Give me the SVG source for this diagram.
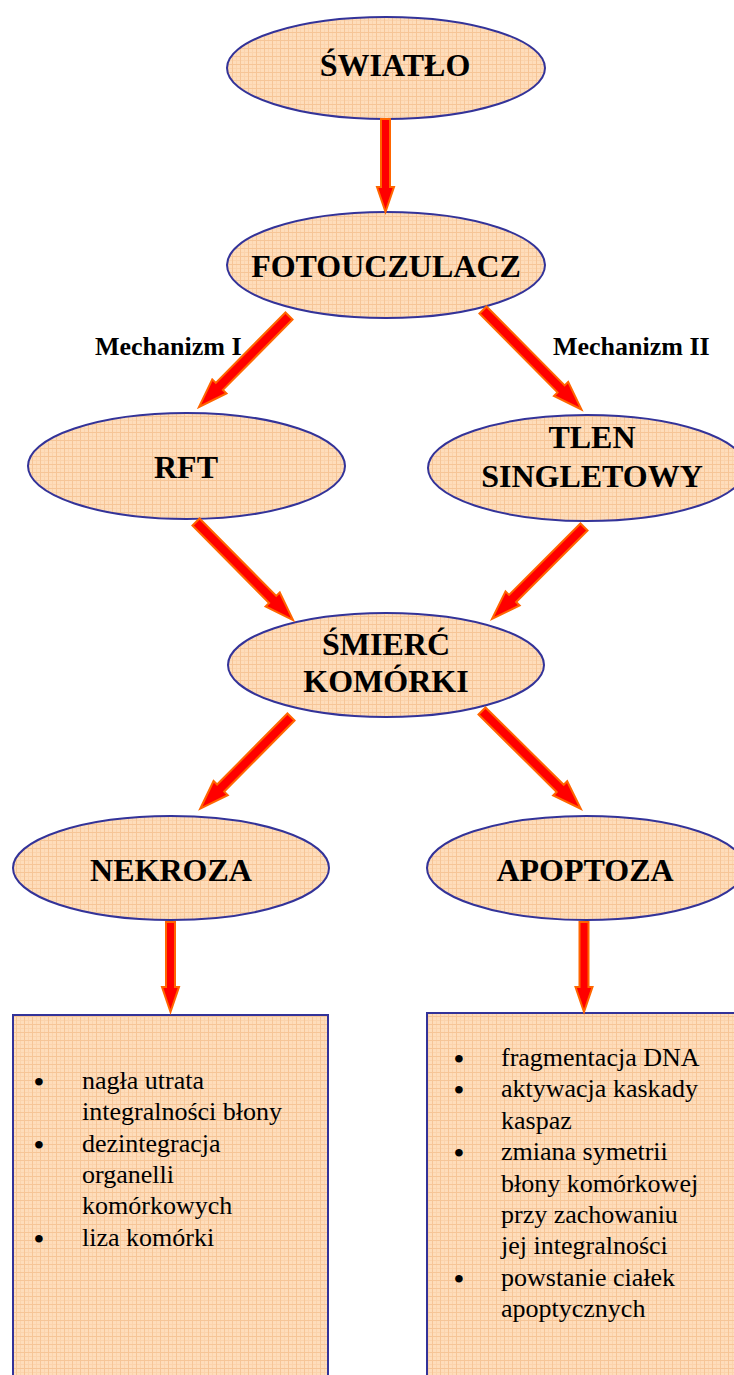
<svg xmlns="http://www.w3.org/2000/svg" width="734" height="1375" viewBox="0 0 734 1375">
<style>
.node{fill:url(#grid);stroke:#333399;stroke-width:2}
.t{font-family:"Liberation Serif","Times New Roman",serif;font-weight:bold;font-size:32px;fill:#000;text-anchor:middle}
.lab{font-family:"Liberation Serif","Times New Roman",serif;font-weight:bold;font-size:26px;fill:#000}
.b{font-family:"Liberation Serif","Times New Roman",serif;font-size:26px;fill:#000}
.bul{font-family:"Liberation Serif","Times New Roman",serif;font-size:28px;font-weight:bold;fill:#000;text-anchor:middle}
.arr{fill:#FF0000;stroke:#FF6600;stroke-width:2;stroke-linejoin:miter}
</style>
<defs>
<pattern id="grid" width="8" height="8" patternUnits="userSpaceOnUse">
<rect width="8" height="8" fill="#FEDDBB"/>
<path d="M0,4.5H8M4.5,0V8" stroke="#FBD3AC" stroke-width="1"/>
<path d="M0,0.5H8M0.5,0V8" stroke="#F6C597" stroke-width="1"/>
</pattern>
</defs>
<rect width="734" height="1375" fill="#FFFFFF"/>

<g id="swiatlo">
<ellipse class="node" cx="386" cy="68" rx="159" ry="51"/>
<text class="t" x="395" y="76">ŚWIATŁO</text>
</g>
<g id="fotouczulacz">
<ellipse class="node" cx="386" cy="265" rx="159" ry="53"/>
<text class="t" x="386" y="277">FOTOUCZULACZ</text>
</g>
<g id="rft">
<ellipse class="node" cx="186.5" cy="466" rx="158.5" ry="53"/>
<text class="t" x="186" y="478">RFT</text>
</g>
<g id="tlen">
<ellipse class="node" cx="587" cy="468" rx="159" ry="53"/>
<text class="t" x="592" y="448">TLEN</text>
<text class="t" x="592" y="487">SINGLETOWY</text>
</g>
<g id="smierc">
<ellipse class="node" cx="386" cy="665" rx="158" ry="52"/>
<text class="t" x="386" y="655">ŚMIERĆ</text>
<text class="t" x="386" y="692">KOMÓRKI</text>
</g>
<g id="nekroza">
<ellipse class="node" cx="171" cy="868" rx="158" ry="52"/>
<text class="t" x="171" y="881">NEKROZA</text>
</g>
<g id="apoptoza">
<ellipse class="node" cx="586" cy="868" rx="159" ry="52"/>
<text class="t" x="585" y="881">APOPTOZA</text>
</g>

<g id="box-nekroza">
<rect class="node" x="13" y="1015" width="315" height="380"/>
<text class="bul" x="39" y="1091">•</text>
<text class="b" x="82" y="1089">nagła utrata</text>
<text class="b" x="82" y="1120">integralności błony</text>
<text class="bul" x="39" y="1154">•</text>
<text class="b" x="82" y="1152">dezintegracja</text>
<text class="b" x="82" y="1183">organelli</text>
<text class="b" x="82" y="1214">komórkowych</text>
<text class="bul" x="39" y="1248">•</text>
<text class="b" x="82" y="1246">liza komórki</text>
</g>
<g id="box-apoptoza">
<rect class="node" x="427" y="1013" width="330" height="380"/>
<text class="bul" x="459" y="1068">•</text>
<text class="b" x="501" y="1066">fragmentacja DNA</text>
<text class="bul" x="459" y="1099">•</text>
<text class="b" x="501" y="1097">aktywacja kaskady</text>
<text class="b" x="501" y="1129">kaspaz</text>
<text class="bul" x="459" y="1162">•</text>
<text class="b" x="501" y="1160">zmiana symetrii</text>
<text class="b" x="501" y="1192">błony komórkowej</text>
<text class="b" x="501" y="1223">przy zachowaniu</text>
<text class="b" x="501" y="1254">jej integralności</text>
<text class="bul" x="459" y="1288">•</text>
<text class="b" x="501" y="1286">powstanie ciałek</text>
<text class="b" x="501" y="1317">apoptycznych</text>
</g>

<g id="connectors">
<g transform="translate(385.5,119) rotate(90)"><path class="arr" d="M0,-4.5H68V-8.5L93,0L68,8.5V4.5H0Z"/></g>
<g transform="translate(289,316) rotate(134.7)"><path class="arr" d="M0,-5H99V-10L128,0L99,10V5H0Z"/></g>
<g transform="translate(483,310) rotate(45.3)"><path class="arr" d="M0,-5H111V-10L140,0L111,10V5H0Z"/></g>
<g transform="translate(196,522) rotate(45.3)"><path class="arr" d="M0,-5H109V-10L138,0L109,10V5H0Z"/></g>
<g transform="translate(584,527) rotate(135)"><path class="arr" d="M0,-5H101V-10L130,0L101,10V5H0Z"/></g>
<g transform="translate(291,717) rotate(134.7)"><path class="arr" d="M0,-5H100V-10L129,0L100,10V5H0Z"/></g>
<g transform="translate(482,711) rotate(44.7)"><path class="arr" d="M0,-5H110V-10L139,0L110,10V5H0Z"/></g>
<g transform="translate(170.5,922) rotate(90)"><path class="arr" d="M0,-4.5H65V-8.5L90,0L65,8.5V4.5H0Z"/></g>
<g transform="translate(584,922) rotate(90)"><path class="arr" d="M0,-4.5H65V-8.5L90,0L65,8.5V4.5H0Z"/></g>
<text class="lab" x="95" y="355">Mechanizm I</text>
<text class="lab" x="553" y="355">Mechanizm II</text>
</g>
</svg>
